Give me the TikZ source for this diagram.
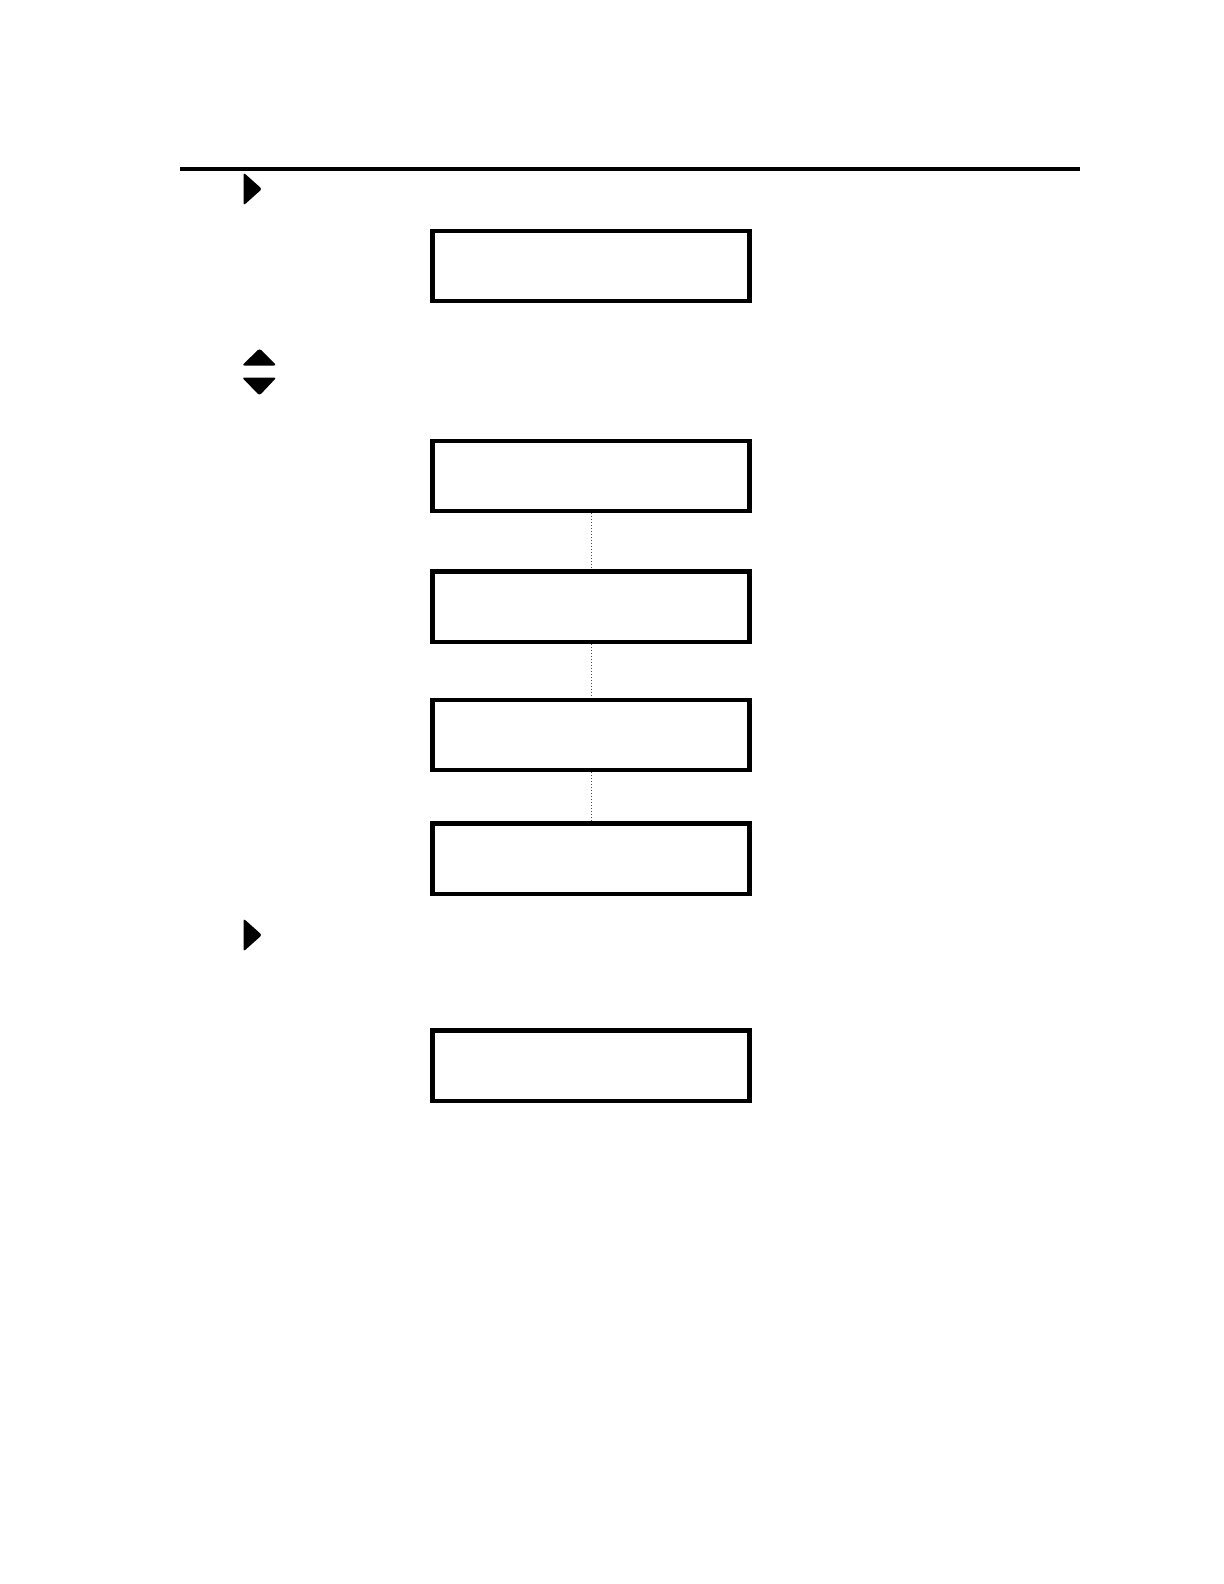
\documentclass[tikz,border=0pt]{standalone}
\usepackage{tikz}
\usetikzlibrary{positioning}

\tikzset{
    panel/.style={draw, line width=2.2pt, minimum width=158.6pt, minimum height=35.2pt, inner sep=0pt},
    link/.style={densely dotted, line width=0.5pt, black!70},
    tip/.style={fill=black, rounded corners=1.2pt}
}

\begin{document}
\begin{tikzpicture}[x=0.5pt, y=-0.5pt]
    \useasboundingbox (0, 0) rectangle (1224, 1584);
    % Rule at the top
        \draw[line width=1.6pt] (180, 169) -- (1080, 169);
    % Arrow marks on the left
        \fill[tip] (243.5, 172.5) -- (262, 189) -- (243.5, 205.5) -- cycle;
        \fill[tip] (242, 365.5) -- (259.5, 348.5) -- (276.5, 365.5) -- cycle;
        \fill[tip] (242, 377.5) -- (276.5, 377.5) -- (259.5, 395.5) -- cycle;
        \fill[tip] (243.5, 918.5) -- (262, 935) -- (243.5, 951.5) -- cycle;
    % Display boxes
        \node[panel] (start) at (591, 266) {};
        \node[panel] (menuA) at (591, 476) {};
        \node[panel] (menuB) at (591, 606.5) {};
        \node[panel] (menuC) at (591, 735) {};
        \node[panel] (menuD) at (591, 858.5) {};
        \node[panel] (result) at (591, 1065.5) {};
    % Dotted links between the menu boxes
        \draw[link] (menuA) -- (menuB);
        \draw[link] (menuB) -- (menuC);
        \draw[link] (menuC) -- (menuD);
\end{tikzpicture}
\end{document}
